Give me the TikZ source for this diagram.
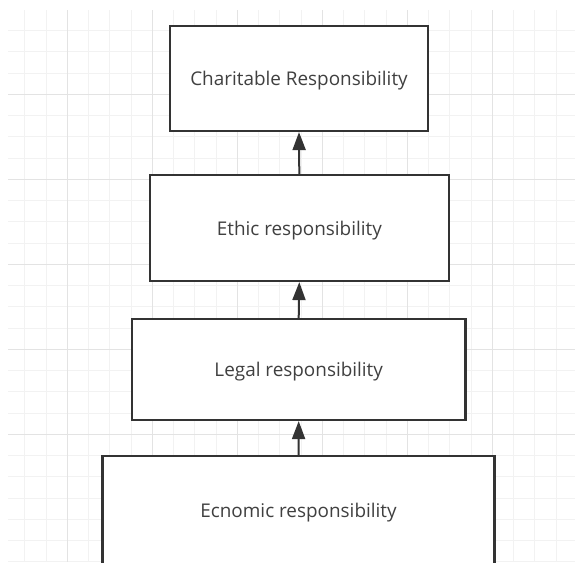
\documentclass[tikz,border=0pt]{standalone}
\usepackage{fontspec}
\setmainfont{Open Sans}
\usetikzlibrary{arrows.meta}
\definecolor{boxline}{HTML}{333333}
\definecolor{txt}{HTML}{404040}
\definecolor{gridminor}{HTML}{F2F2F2}
\definecolor{gridmajor}{HTML}{E3E3E3}
\tikzset{
  layer/.style={draw=boxline, line width=2.2pt, fill=white, text=txt,
    inner sep=0pt, text depth=0pt, font=\fontsize{18.9}{20}\selectfont},
  uparrow/.style={draw=boxline, line width=2pt,
    -{Triangle[length=18pt,width=13pt]}},
}
\begin{document}
\begin{tikzpicture}[x=1pt,y=-1pt]
\useasboundingbox (0,0) rectangle (575,562);
\fill[white] (0,0) rectangle (575,562);
\begin{scope}
\clip (8,10) rectangle (575,562);
% minor grid
\foreach \i in {0,...,27} {
  \draw[gridminor, line width=1pt] ({3.55+21.25*\i},10) -- ({3.55+21.25*\i},562);
}
\foreach \i in {0,...,26} {
  \draw[gridminor, line width=1pt] (8,{9.3+21.25*\i}) -- (575,{9.3+21.25*\i});
}
% major grid
\foreach \i in {0,...,5} {
  \draw[gridmajor, line width=1pt] ({67.3+85*\i},10) -- ({67.3+85*\i},562);
}
\foreach \i in {0,...,5} {
  \draw[gridmajor, line width=1pt] (8,{9.3+85*\i}) -- (575,{9.3+85*\i});
}
\end{scope}

\begin{scope}
\clip (0,0) rectangle (575,562);
\node[layer, minimum width=258pt, minimum height=105pt] (char) at (299,78.5) {Charitable Responsibility};
\node[layer, minimum width=299pt, minimum height=106pt] (ethic) at (299.3,228) {Ethic responsibility};
\node[layer, minimum width=333.5pt, minimum height=101pt] (legal) at (298.7,369.5) {Legal responsibility};
\node[layer, minimum width=392pt, minimum height=109pt] (econ) at (298.5,510.5) {Ecnomic responsibility};
\end{scope}

\draw[uparrow] (legal.north) -- (ethic.south);
\draw[uparrow] (ethic.north) -- (char.south);
\draw[uparrow] (econ.north) -- (legal.south);
\end{tikzpicture}
\end{document}
